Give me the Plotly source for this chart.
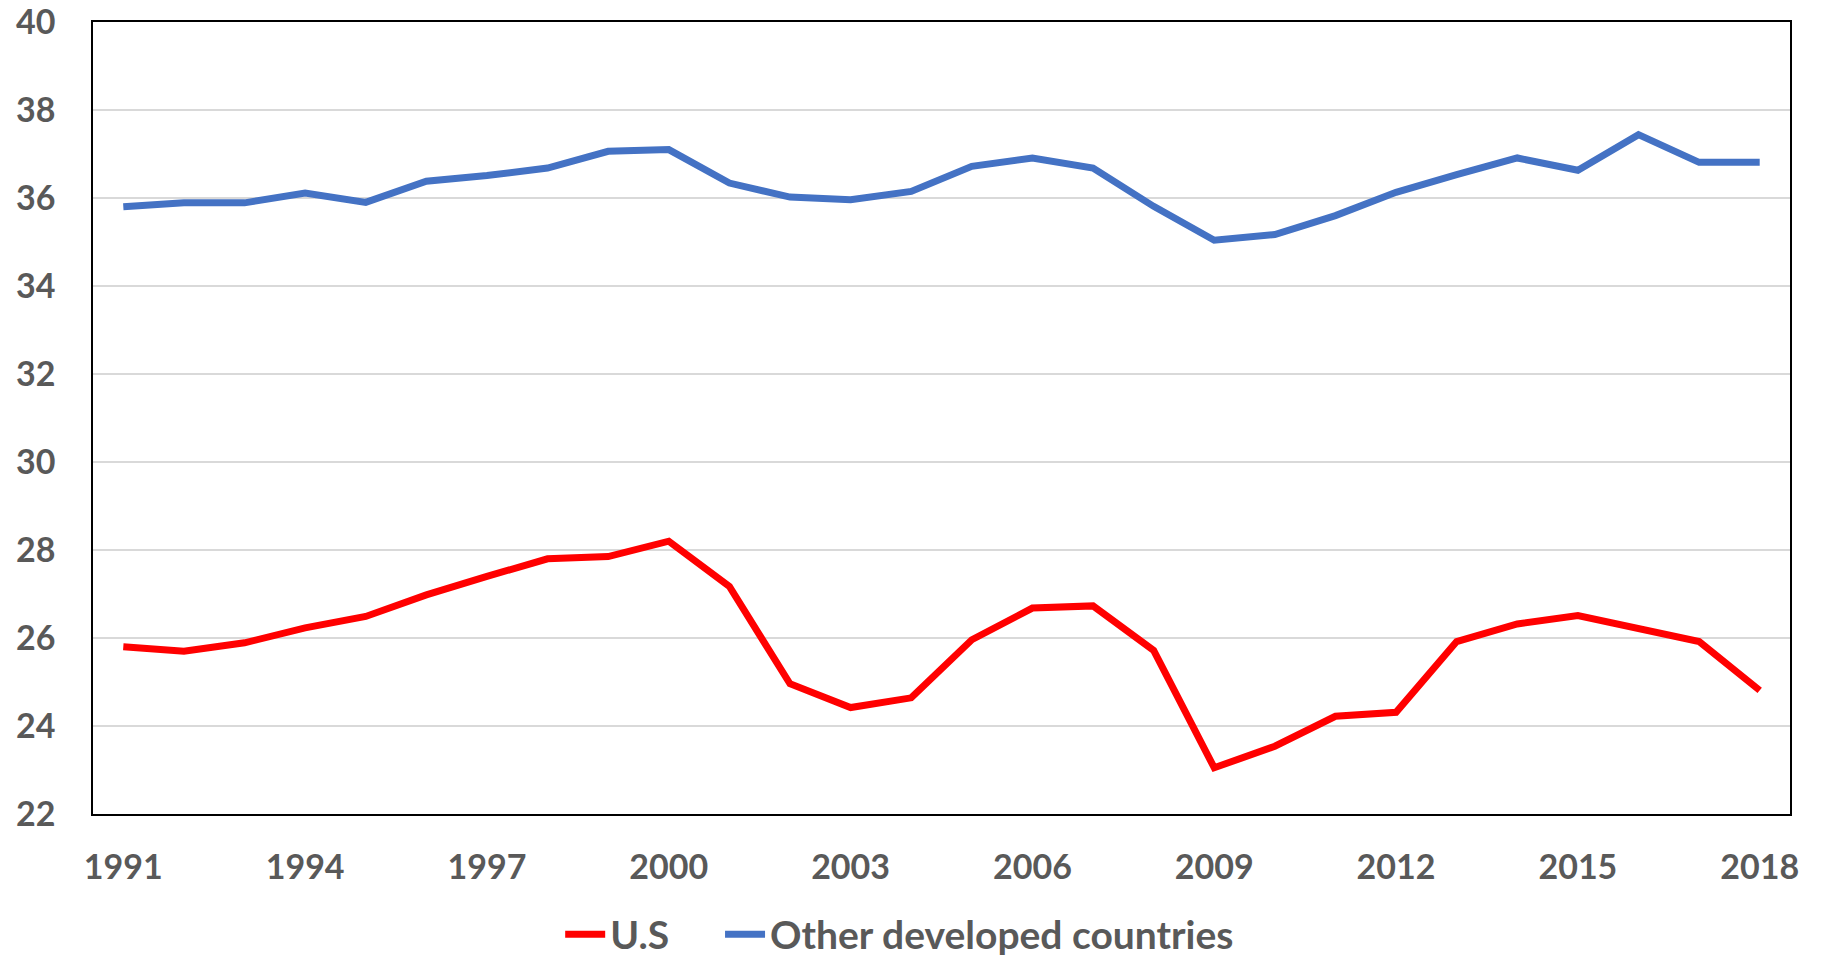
import plotly.graph_objects as go

years = list(range(1991, 2019))
us = [25.80, 25.70, 25.89, 26.23, 26.49, 26.98, 27.40, 27.80, 27.85, 28.20,
      27.17, 24.96, 24.42, 24.64, 25.96, 26.68, 26.73, 25.72, 23.05, 23.54,
      24.22, 24.31, 25.92, 26.32, 26.51, 26.23, 25.92, 24.81]
other = [35.80, 35.89, 35.89, 36.11, 35.90, 36.38, 36.51, 36.68, 37.06, 37.10,
         36.34, 36.02, 35.96, 36.15, 36.72, 36.91, 36.68, 35.81, 35.04, 35.17,
         35.60, 36.13, 36.53, 36.91, 36.63, 37.44, 36.81, 36.81]
x_ticks = list(range(1991, 2019, 3))
y_ticks = list(range(22, 41, 2))

font_family = "Lato, 'Open Sans', sans-serif"
text_color = "#595959"
legend_font = dict(size=39, family=font_family, color=text_color, weight="bold")

fig = go.Figure()
fig.add_trace(go.Scatter(x=years, y=us, mode="lines", name="U.S", legend="legend",
                         line=dict(color="#ff0000", width=7)))
fig.add_trace(go.Scatter(x=years, y=other, mode="lines", name="Other developed countries",
                         legend="legend2", line=dict(color="#4472c4", width=7)))

fig.update_layout(
    width=1821, height=956,
    margin=dict(l=93, r=31, t=22, b=142, autoexpand=False),
    paper_bgcolor="white", plot_bgcolor="white",
    font=dict(family=font_family, color=text_color, size=34),
    showlegend=True,
    legend=dict(orientation="h", x=0.2753, y=-0.152, xanchor="left", yanchor="middle",
                font=legend_font, itemwidth=40, bgcolor="rgba(0,0,0,0)"),
    legend2=dict(orientation="h", x=0.3695, y=-0.152, xanchor="left", yanchor="middle",
                 font=legend_font, itemwidth=40, bgcolor="rgba(0,0,0,0)"),
)
fig.update_xaxes(
    range=[1990.5, 2018.5], tickmode="array", tickvals=x_ticks,
    ticktext=[str(v) for v in x_ticks], automargin=False, ticklabeloverflow="allow",
    tickfont=dict(size=34, family=font_family, color=text_color, weight="bold"),
    showgrid=False, zeroline=False, ticks="", ticklabelstandoff=22,
    showline=True, linecolor="black", linewidth=1.5, mirror=True,
)
fig.update_yaxes(
    range=[22, 40], tickmode="array", tickvals=y_ticks,
    ticktext=[str(v) for v in y_ticks], automargin=False, ticklabeloverflow="allow",
    tickfont=dict(size=34, family=font_family, color=text_color, weight="bold"),
    showgrid=True, gridcolor="#d9d9d9", gridwidth=1.5, zeroline=False, ticks="",
    ticklabelstandoff=29,
    showline=True, linecolor="black", linewidth=1.5, mirror=True,
)

fig.write_html("out.html", config={"displayModeBar": False},
               post_script="document.body.style.margin='0';document.body.style.overflow='hidden';")
